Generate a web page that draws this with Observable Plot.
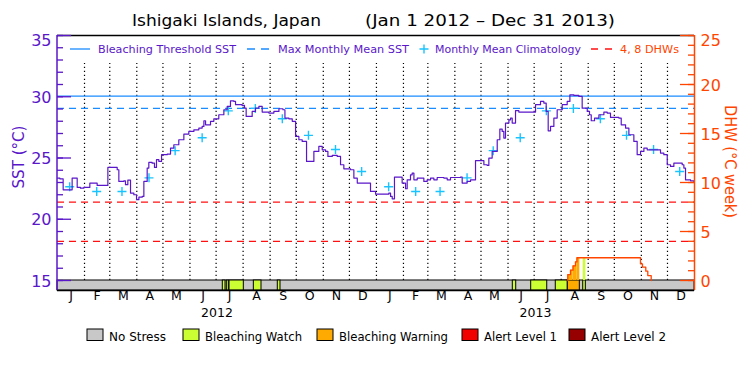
<!DOCTYPE html>
<html><head><meta charset="utf-8">
<script src="https://cdn.jsdelivr.net/npm/d3@7"></script>
<script src="https://cdn.jsdelivr.net/npm/@observablehq/plot@0.6"></script>
<style>
body{margin:0;background:#fff;}
#chart{position:relative;width:750px;height:375px;overflow:hidden;}
</style></head><body><div id="chart"></div>
<script>
// ---------- DATA (days counted from Jan 1 2012) ----------
const titleLeft = "Ishigaki Islands, Japan";
const titleRight = "(Jan 1 2012 \u2013 Dec 31 2013)";
const monthLetters = ["J","F","M","A","M","J","J","A","S","O","N","D"];
const years = [2012, 2013];

const sstDay = [0,2.7,6.5,16.8,22.6,26.4,30.2,37.1,45.5,57.8,68.5,70.4,76.1,78,80.7,83.8,87.6,90.7,93.4,97.2,99.1,102.9,104.8,108.6,111.3,113.6,116.3,119.4,125.9,129.7,133.5,139.2,145,150.7,156.5,162.2,166,168,169.9,175.6,179.4,185.1,190.9,194.7,198.5,202.4,204.3,211.9,214.6,216.5,223.4,227.2,231.1,234.9,242.6,248.3,254.1,258.7,261,265.5,269.4,273.2,277,280.8,285.8,294.2,299.9,303.8,307.6,310.3,315.3,321,324.8,328.6,336.3,340.1,344,359.2,
  365,380.2,382.2,384.1,386.7,395.5,399.4,401.3,405.1,407,409,412.8,420.4,424.2,428.1,431.9,435.7,443.4,447.2,451,462.5,464.4,470.1,474,479.7,489.3,493.1,495,498.8,504.6,507.6,510.3,512.2,514.1,518,519.9,521.8,525.6,529.4,548.6,554.3,558.1,560.8,563.1,565.8,569.6,573.4,579.2,584.9,588,592.6,598.3,602.1,607.9,610.5,612.5,616.3,621.3,627,630.8,634.6,644.2,646.9,651.9,655.7,661.4,665.2,669.1,672.9,676.7,692,695.8,699.7,703.5,707.3,716.9,718.8,720.7,726.5,730.3,731];
const sstVal = [23.36,23.3,22.4,23.36,22.6,22.54,22.6,22.95,22.76,24.23,24.04,23.09,23.14,22.82,23.2,22.14,22.0,21.6,21.8,21.86,23.09,24.18,24.64,24.58,24.23,24.86,24.72,25.27,25.32,25.8,26.08,26.49,26.95,27.17,27.3,27.44,27.58,28.04,27.71,27.99,28.2,28.53,28.94,29.21,29.67,29.62,29.35,29.29,29.07,28.39,28.8,29.07,29.21,28.75,28.67,28.8,29.02,28.94,28.26,28.2,27.99,26.76,26.49,26.35,24.72,25.54,25.95,25.67,25.54,25.13,25.21,25.13,24.45,24.12,24.04,23.36,22.95,22.27,
  22.05,22.14,21.86,21.67,23.44,22.95,22.49,23.22,23.63,23.77,23.22,23.36,23.09,23.22,23.36,23.22,23.41,23.36,23.22,23.41,23.44,22.95,23.09,23.22,24.78,24.45,24.39,24.99,25.54,26.49,27.36,27.17,26.63,27.85,28.12,28.26,27.85,28.86,28.75,29.35,29.62,29.48,28.8,27.22,27.58,28.26,28.94,29.35,29.62,30.16,30.11,30.03,29.07,28.8,28.53,28.04,28.26,28.53,28.75,28.67,28.31,28.26,27.71,27.44,26.9,26.35,25.27,25.54,25.81,25.67,25.4,25.27,24.45,24.31,24.58,24.45,24.18,23.22,23.14,23.09,23.09];

const climMonthly = [22.65,22.27,22.27,23.38,25.6,26.65,28.85,29.05,28.2,26.85,25.7,23.9];
const bleachingThreshold = 30.05;
const maxMonthlyMean = 29.05;
const dhwLevels = [4, 8];

const dhwDay = [585.6,585.6,588.7,591.6,594.4,596.1,669,671.3,675.1,677.4,681.3];
const dhwVal = [0,0.6,1.05,1.5,1.9,2.32,1.7,1.36,0.95,0.5,0];

const stressStart = [189.7,194.3,197.4,225.3,252.8,522.5,543.6,571.8,585.6,603.3];
const stressEnd   = [192.8,196.6,213.8,234.1,255.9,526.4,562.0,585.6,599.4,606.3];
const stressLevel = ["Bleaching Watch","Bleaching Watch","Bleaching Watch","Bleaching Watch","Bleaching Watch","Bleaching Watch","Bleaching Watch","Bleaching Watch","Bleaching Warning","Bleaching Watch"];

const stressNames = ["No Stress","Bleaching Watch","Bleaching Warning","Alert Level 1","Alert Level 2"];
const stressColors = ["#c8c8c8","#ccff33","#ffaa00","#f00000","#960000"];

const sstTicksMajor = [15,20,25,30,35];
const sstTicksMinor = d3.range(15,36,1);
const dhwTicksMajor = [0,5,10,15,20,25];
const dhwTicksMinor = d3.range(0,26,1);

// ---------- STYLE ----------
const FONT = "DejaVu Sans";
const PURPLE = "#5a17c9", ORANGE = "#ff4500", BLUE = "#1a8cff", CYAN = "#19c3ff", RED = "#ff1010";
const SST_MIN = 15, SST_MAX = 35, DHW_MAX = 25;
const dhwToSst = v => SST_MIN + v * (SST_MAX - SST_MIN) / DHW_MAX;
const barBottom = SST_MIN - 10 * (SST_MAX - SST_MIN) / 245;
const gridTop = SST_MAX - 28 * (SST_MAX - SST_MIN) / 245; // grid stops below legend

const T0 = Date.UTC(2012,0,1);
const toDate = d => new Date(T0 + d * 864e5);
const start = toDate(0), end = new Date(Date.UTC(2014,0,1));
const colorOf = name => stressColors[stressNames.indexOf(name)];

const sst = sstDay.map((d,i)=>({date: toDate(d), v: sstVal[i]}));
const months = d3.utcMonth.range(start, end);
const clim = months.map((m,i)=>({date: new Date(Date.UTC(m.getUTCFullYear(), m.getUTCMonth(), 15)), v: climMonthly[i % 12]}));
const monthLabels = months.map((m,i)=>({date: new Date((+m + +d3.utcMonth.offset(m,1))/2), t: monthLetters[i % 12]}));
const yearLabels = years.map(y=>({date: new Date((Date.UTC(y,0,1)+Date.UTC(y+1,0,1))/2), t: String(y)}));
const stress = stressStart.map((s,i)=>({x1: toDate(s), x2: toDate(stressEnd[i]), fill: colorOf(stressLevel[i])}));
const dhw = dhwDay.map((d,i)=>({date: toDate(d), v: dhwToSst(dhwVal[i])}));

// fill under DHW curve coloured by stress level
const dhwSteps = dhwDay.map((d,i)=>({a: d, b: i+1<dhwDay.length ? dhwDay[i+1] : d, v: dhwVal[i]})).filter(s=>s.b>s.a && s.v>0);
const dhwFill = [];
stressStart.forEach((s,i)=>{
  dhwSteps.forEach(st=>{
    const a = Math.max(s, st.a), b = Math.min(stressEnd[i], st.b);
    if (b > a) dhwFill.push({x1: toDate(a), x2: toDate(b), v: dhwToSst(st.v), fill: colorOf(stressLevel[i])});
  });
});

const thinPlus = { draw(ctx, size) { const r = Math.sqrt(size/Math.PI); ctx.moveTo(-r,0); ctx.lineTo(r,0); ctx.moveTo(0,-r); ctx.lineTo(0,r); } };
const FW = 637;

const plot = Plot.plot({
  width: 750, height: 375,
  marginLeft: 57, marginRight: 56, marginTop: 35, marginBottom: 85,
  style: {fontFamily: FONT, background: "white", overflow: "visible"},
  x: {type: "utc", domain: [start, end], range: [57, 694], axis: null},
  y: {domain: [SST_MIN, SST_MAX], range: [280, 35], axis: null},
  marks: [
    // dotted month separators
    Plot.ruleX(months.slice(1), {y1: SST_MIN, y2: gridTop, stroke: "black", strokeWidth: 1.2, strokeDasharray: "1.2,2.8"}),
    // stress bar
    Plot.rect([0], {x1: start, x2: end, y1: barBottom, y2: SST_MIN, fill: stressColors[0], stroke: "black", strokeWidth: 1}),
    Plot.rect(stress, {x1: "x1", x2: "x2", y1: barBottom, y2: SST_MIN, fill: "fill", stroke: "black", strokeWidth: 1}),
    Plot.rect(dhwFill, {x1: "x1", x2: "x2", y1: SST_MIN, y2: "v", fill: "fill"}),
    // reference lines
    Plot.ruleY([bleachingThreshold], {stroke: BLUE, strokeWidth: 1.3}),
    Plot.ruleY([maxMonthlyMean], {stroke: BLUE, strokeWidth: 1.3, strokeDasharray: "7,5"}),
    Plot.ruleY(dhwLevels.map(dhwToSst), {stroke: RED, strokeWidth: 1.3, strokeDasharray: "7,5"}),
    // climatology
    Plot.dot(clim, {x: "date", y: "v", symbol: thinPlus, r: 4.5, stroke: CYAN, fill: "none", strokeWidth: 1.4}),
    // SST
    Plot.line(sst, {x: "date", y: "v", curve: "step-after", stroke: PURPLE, strokeWidth: 1.2}),
    // DHW
    Plot.line(dhw, {x: "date", y: "v", curve: "step-after", stroke: ORANGE, strokeWidth: 1.3}),
    // axes lines
    Plot.ruleX([start], {y1: barBottom, y2: SST_MAX, stroke: PURPLE, strokeWidth: 1.5, dx: -0.5}),
    Plot.ruleX([end], {y1: barBottom, y2: SST_MAX, stroke: ORANGE, strokeWidth: 1.5}),
    Plot.ruleY([SST_MAX], {stroke: "black", strokeWidth: 1.3}),
    Plot.ruleY([barBottom], {stroke: "black", strokeWidth: 1.3}),
    // left ticks
    Plot.tickY(sstTicksMinor, {y: d=>d, insetRight: FW - 6, stroke: PURPLE, strokeWidth: 1.3}),
    Plot.tickY(sstTicksMajor, {y: d=>d, insetRight: FW - 14, stroke: PURPLE, strokeWidth: 1.3}),
    Plot.text(sstTicksMajor.filter(d=>d<SST_MAX), {y: d=>d, text: d=>d, frameAnchor: "left", dx: -6, dy: 1, textAnchor: "end", fill: PURPLE, fontSize: 16}),
    Plot.text([SST_MAX], {y: d=>d, text: d=>d, frameAnchor: "left", dx: -6, dy: 5, textAnchor: "end", fill: PURPLE, fontSize: 16}),
    // right ticks
    Plot.tickY(dhwTicksMinor, {y: d=>dhwToSst(d), insetLeft: FW - 6, stroke: ORANGE, strokeWidth: 1.3}),
    Plot.tickY(dhwTicksMajor, {y: d=>dhwToSst(d), insetLeft: FW - 14, stroke: ORANGE, strokeWidth: 1.3}),
    Plot.text(dhwTicksMajor.filter(d=>d<DHW_MAX), {y: d=>dhwToSst(d), text: d=>d, frameAnchor: "right", dx: 6, dy: 1, textAnchor: "start", fill: ORANGE, fontSize: 16}),
    Plot.text([DHW_MAX], {y: d=>dhwToSst(d), text: d=>d, frameAnchor: "right", dx: 6, dy: 5, textAnchor: "start", fill: ORANGE, fontSize: 16}),
    // month and year labels
    Plot.text(monthLabels, {x: "date", text: "t", frameAnchor: "bottom", dy: 9, fill: "black", fontSize: 12.5}),
    Plot.text(yearLabels, {x: "date", text: "t", frameAnchor: "bottom", dy: 26, fill: "black", fontSize: 12.5})
  ]
});
document.getElementById("chart").appendChild(plot);

// ---------- titles & legends ----------
const svg = d3.select(plot);
const g = svg.append("g").attr("font-family", FONT);
function addText(x, y, s, {size=12, fill="black", anchor="start", len=null, transform=null}={}) {
  const t = g.append("text").attr("x", x).attr("y", y).attr("font-size", size).attr("fill", fill).attr("text-anchor", anchor).text(s);
  if (len) t.attr("textLength", len).attr("lengthAdjust", "spacingAndGlyphs");
  if (transform) t.attr("transform", transform);
  return t;
}
addText(132, 26, titleLeft, {size: 16, len: 189});
addText(365, 26, titleRight, {size: 16, len: 250});

// top legend
const legY = 49;
g.append("line").attr("x1",70).attr("x2",90).attr("y1",legY).attr("y2",legY).attr("stroke",BLUE).attr("stroke-width",1.3);
addText(98, legY+4, "Bleaching Threshold SST", {size: 11, fill: PURPLE, len: 138});
g.append("line").attr("x1",247).attr("x2",272).attr("y1",legY).attr("y2",legY).attr("stroke",BLUE).attr("stroke-width",1.3).attr("stroke-dasharray","8,6");
addText(278, legY+4, "Max Monthly Mean SST", {size: 11, fill: PURPLE, len: 131});
g.append("path").attr("d",`M419.5,${legY}h9M424,${legY-4.5}v9`).attr("stroke",CYAN).attr("stroke-width",1.4).attr("fill","none");
addText(435, legY+4, "Monthly Mean Climatology", {size: 11, fill: PURPLE, len: 146});
g.append("line").attr("x1",591).attr("x2",613).attr("y1",legY).attr("y2",legY).attr("stroke",RED).attr("stroke-width",1.3).attr("stroke-dasharray","7,7");
addText(620, legY+4, "4, 8 DHWs", {size: 11, fill: ORANGE, len: 59});

// axis titles
addText(0, 0, "SST (\u00b0C)", {size: 16, fill: PURPLE, anchor: "middle", len: 63, transform: "translate(24,157) rotate(-90)"});
addText(0, 0, "DHW (\u00b0C week)", {size: 16, fill: ORANGE, anchor: "middle", len: 113, transform: "translate(725,161.5) rotate(90)"});

// bottom legend
const boxX = [87, 183, 317, 462, 569];
const textLen = [57, 97, 109, 73, 75];
stressNames.forEach((n,i)=>{
  g.append("rect").attr("x", boxX[i]).attr("y", 329).attr("width", 16).attr("height", 11.5).attr("fill", stressColors[i]).attr("stroke","black").attr("stroke-width",1);
  addText(boxX[i] + 22, 340.5, n, {size: 13, len: textLen[i]});
});
</script></body></html>
